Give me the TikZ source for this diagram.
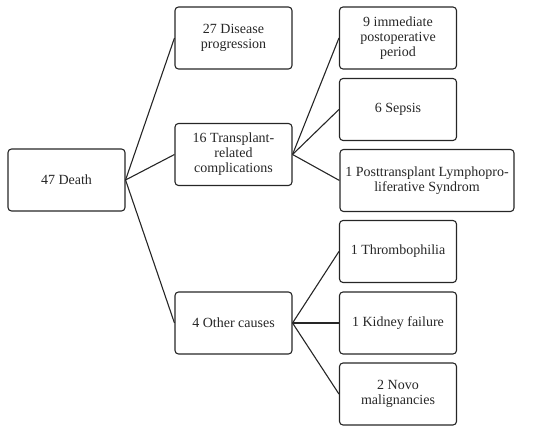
\documentclass[tikz,border=0pt]{standalone}
\usepackage{fontspec}
\setmainfont{Liberation Serif}
\begin{document}
\begin{tikzpicture}[
  x=1pt,y=-1pt,
  box/.style={draw=black!85,line width=1.1pt,rounded corners=3.5pt,minimum width=117pt,minimum height=62pt,align=center,inner sep=2pt,
    font=\fontsize{14}{15}\selectfont,text=black!85},
  wbox/.style={box,minimum width=174pt},
  link/.style={draw=black!85,line width=1.1pt}
]
\useasboundingbox (0,0) rectangle (550,433);
\node[box] (death) at (66.5,180) {47 Death};
\node[box] (dis) at (233.5,38) {27 Disease\\progression};
\node[box] (tr) at (233.5,154.5) {16 Transplant-\\related\\complications};
\node[box] (oth) at (233.5,323) {4 Other causes};
\node[box] (imm) at (398,38) {9 immediate\\postoperative\\period};
\node[box] (sep) at (398,109.5) {6 Sepsis};
\node[wbox] (ptl) at (427,180.5) {1 Posttransplant Lymphopro-\\liferative Syndrom};
\node[box] (thr) at (398,251.5) {1 Thrombophilia};
\node[box] (kid) at (398,323) {1 Kidney failure};
\node[box] (novo) at (398,394) {2 Novo\\malignancies};
\draw[link] (death.east) -- (dis.west);
\draw[link] (death.east) -- (tr.west);
\draw[link] (death.east) -- (oth.west);
\draw[link] (tr.east) -- (imm.west);
\draw[link] (tr.east) -- (sep.west);
\draw[link] (tr.east) -- (ptl.west);
\draw[link] (oth.east) -- (thr.west);
\draw[link] (oth.east) -- (kid.west);
\draw[link] (oth.east) -- (novo.west);
\end{tikzpicture}
\end{document}
